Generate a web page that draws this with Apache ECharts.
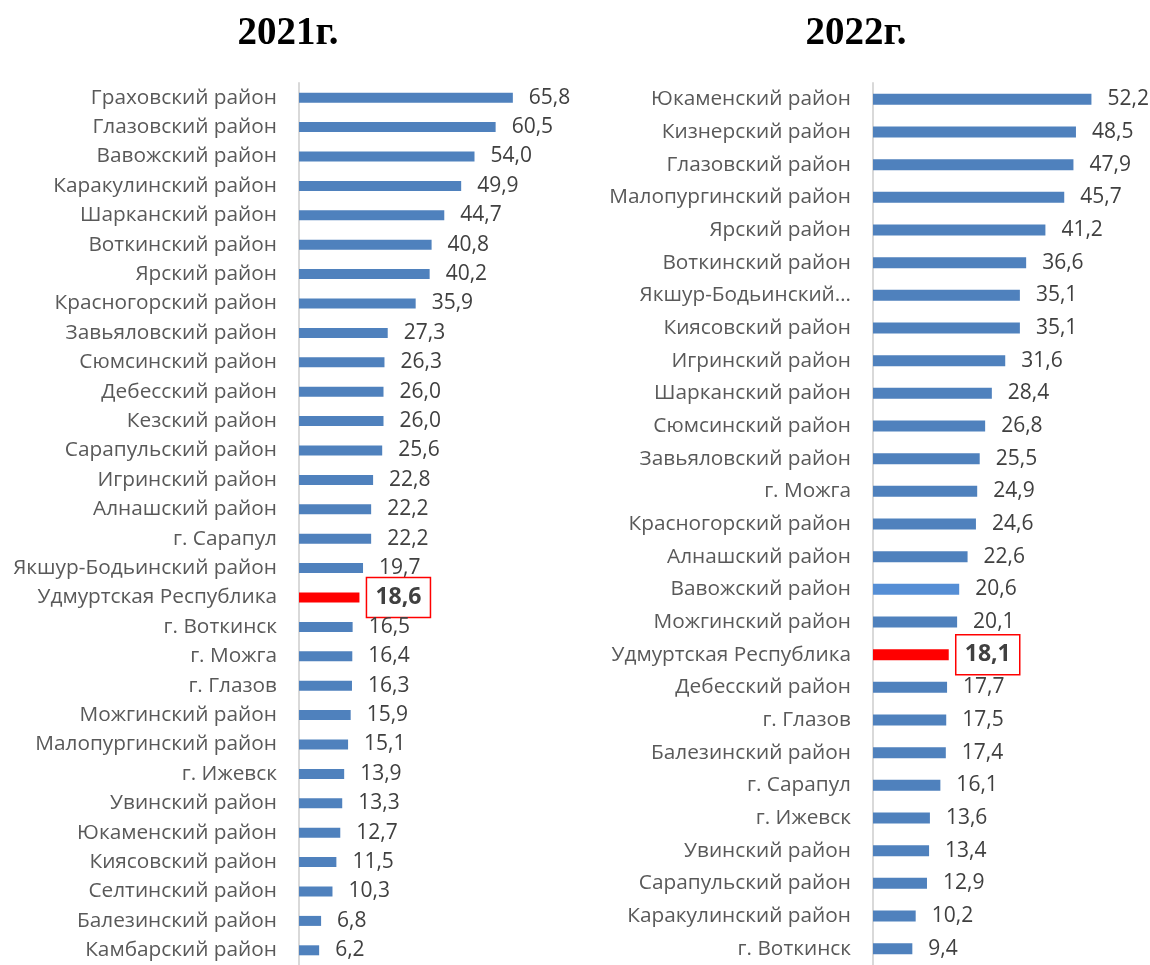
<!DOCTYPE html>
<html>
<head>
<meta charset="utf-8">
<script src="https://cdn.jsdelivr.net/npm/echarts@6/dist/echarts.min.js"></script>
<style>
  html, body { margin: 0; padding: 0; background: #fff; }
  #chart { width: 1150px; height: 965px; }
</style>
</head>
<body>
<div id="chart"></div>
<script>
// 2021
var names2021 = ['Граховский район', 'Глазовский район', 'Вавожский район', 'Каракулинский район',
  'Шарканский район', 'Воткинский район', 'Ярский район', 'Красногорский район', 'Завьяловский район',
  'Сюмсинский район', 'Дебесский район', 'Кезский район', 'Сарапульский район', 'Игринский район',
  'Алнашский район', 'г. Сарапул', 'Якшур-Бодьинский район', 'Удмуртская Республика', 'г. Воткинск',
  'г. Можга', 'г. Глазов', 'Можгинский район', 'Малопургинский район', 'г. Ижевск', 'Увинский район',
  'Юкаменский район', 'Киясовский район', 'Селтинский район', 'Балезинский район', 'Камбарский район']
var values2021 = [65.8, 60.5, 54.0, 49.9, 44.7, 40.8, 40.2, 35.9, 27.3, 26.3, 26.0, 26.0, 25.6, 22.8,
  22.2, 22.2, 19.7, 18.6, 16.5, 16.4, 16.3, 15.9, 15.1, 13.9, 13.3, 12.7, 11.5, 10.3, 6.8, 6.2]

// 2022
var names2022 = ['Юкаменский район', 'Кизнерский район', 'Глазовский район', 'Малопургинский район',
  'Ярский район', 'Воткинский район', 'Якшур-Бодьинский…', 'Киясовский район', 'Игринский район',
  'Шарканский район', 'Сюмсинский район', 'Завьяловский район', 'г. Можга', 'Красногорский район',
  'Алнашский район', 'Вавожский район', 'Можгинский район', 'Удмуртская Республика', 'Дебесский район',
  'г. Глазов', 'Балезинский район', 'г. Сарапул', 'г. Ижевск', 'Увинский район', 'Сарапульский район',
  'Каракулинский район', 'г. Воткинск']
var values2022 = [52.2, 48.5, 47.9, 45.7, 41.2, 36.6, 35.1, 35.1, 31.6, 28.4, 26.8, 25.5, 24.9, 24.6,
  22.6, 20.6, 20.1, 18.1, 17.7, 17.5, 17.4, 16.1, 13.6, 13.4, 12.9, 10.2, 9.4]

var region = 'Удмуртская Республика'
var lighter2022 = 'Вавожский район'

var FONT = 'Open Sans'
var BLUE = '#4F81BD'

function fmt(v) {
  return v.toFixed(1).replace('.', ',')
}

function buildData(names, values, light) {
  return values.map(function (v, i) {
    var item = { value: v }
    if (names[i] === region) {
      item.itemStyle = { color: '#FF0000' }
      item.label = {
        fontWeight: 'bold',
        fontSize: 23,
        color: '#404040',
        borderColor: '#FF0000',
        borderWidth: 1.5,
        padding: [9, 9, 8, 9],
        distance: 7
      }
    } else if (names[i] === light) {
      item.itemStyle = { color: '#558ED5' }
    }
    return item
  })
}

function yAx(idx, names) {
  return {
    type: 'category',
    gridIndex: idx,
    data: names,
    inverse: true,
    axisLine: { show: true, lineStyle: { color: '#D9D9D9', width: 2 } },
    axisTick: { show: false },
    axisLabel: { color: '#595959', fontSize: 20.8, fontFamily: FONT, margin: 22 }
  }
}

function xAx(idx, max) {
  return {
    type: 'value',
    gridIndex: idx,
    min: 0,
    max: max,
    show: false,
    splitLine: { show: false }
  }
}

function ser(idx, names, values, barW, light) {
  return {
    type: 'bar',
    xAxisIndex: idx,
    yAxisIndex: idx,
    barWidth: barW,
    itemStyle: { color: BLUE },
    data: buildData(names, values, light),
    label: {
      show: true,
      position: 'right',
      distance: 16,
      color: '#404040',
      fontSize: 21,
      fontFamily: FONT,
      formatter: function (p) { return fmt(p.value) }
    }
  }
}

var chart = echarts.init(document.getElementById('chart'))
chart.setOption({
  animation: false,
  title: [
    { text: '2021г.', left: 283, top: 9, textAlign: 'center',
      textStyle: { fontFamily: 'Liberation Serif', fontWeight: 'bold', fontSize: 39, color: '#000' } },
    { text: '2022г.', left: 851, top: 9, textAlign: 'center',
      textStyle: { fontFamily: 'Liberation Serif', fontWeight: 'bold', fontSize: 39, color: '#000' } }
  ],
  grid: [
    { left: 299, top: 83, width: 260, height: 885 },
    { left: 873, top: 83, width: 272, height: 886 }
  ],
  xAxis: [xAx(0, 80), xAx(1, 65)],
  yAxis: [yAx(0, names2021), yAx(1, names2022)],
  series: [
    ser(0, names2021, values2021, 10, null),
    ser(1, names2022, values2022, 11, lighter2022)
  ]
})
</script>
</body>
</html>
